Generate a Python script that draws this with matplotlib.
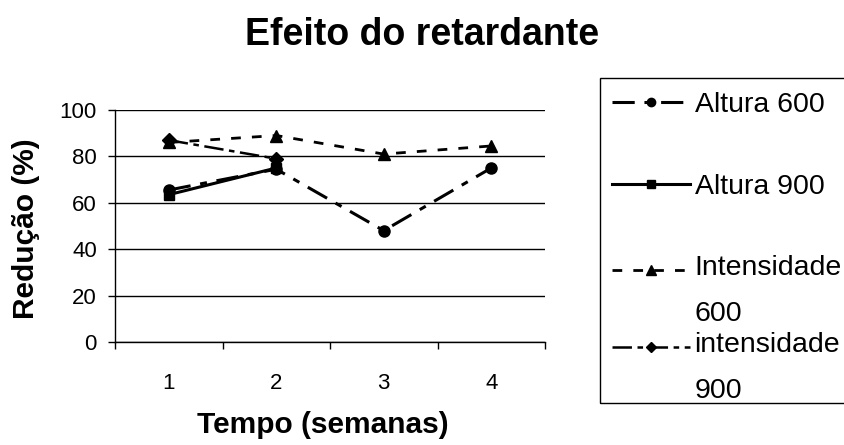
import numpy as np
import matplotlib
matplotlib.use("Agg")
import matplotlib.pyplot as plt
from matplotlib.legend_handler import HandlerLine2D
from matplotlib.patches import Rectangle

plt.rcParams['font.family'] = ['Liberation Sans', 'DejaVu Sans']
plt.rcParams['lines.scale_dashes'] = False

# data
weeks = [1, 2, 3, 4]
altura_600 = [65.5, 74.5, 48, 75]
altura_900 = [63.5, 75, np.nan, np.nan]
intens_600 = [86, 89, 81, 84.5]
intens_900 = [87, 79, np.nan, np.nan]
labels = ["Altura 600", "Altura 900", "Intensidade\n600", "intensidade\n900"]
y_ticks = [0, 20, 40, 60, 80, 100]


# legend handle sits on the first line of a two-line label (like Excel)
class FirstLineHandler(HandlerLine2D):
    def __init__(self, shift, **kw):
        super().__init__(**kw)
        self.shift = shift

    def create_artists(self, legend, orig_handle, xdescent, ydescent,
                       width, height, fontsize, trans):
        arts = super().create_artists(legend, orig_handle, xdescent, ydescent,
                                      width, height, fontsize, trans)
        for a in arts:
            a.set_ydata(np.asarray(a.get_ydata(), dtype=float) + self.shift)
        return arts


W, H = 845, 445
fig = plt.figure(figsize=(W / 100, H / 100), dpi=100)
ax = fig.add_axes([115 / W, 1 - 342 / H, 430 / W, 232 / H])

l1, = ax.plot(weeks, altura_600, color="black", lw=2.2, marker="o", ms=8,
              dashes=(16, 7, 5, 7))
l2, = ax.plot(weeks, altura_900, color="black", lw=2.2, marker="s", ms=7.5)
l3, = ax.plot(weeks, intens_600, color="black", lw=2.0, marker="^", ms=9,
              dashes=(7, 8))
l4, = ax.plot(weeks, intens_900, color="black", lw=1.8, marker="D", ms=7,
              dashes=(14, 4, 4, 4))

ax.set_xlim(0.5, 4.5)
ax.set_ylim(0, 100)
ax.set_yticks(y_ticks)
ax.set_xticks(weeks)
ax.set_xticks([0.5, 1.5, 2.5, 3.5, 4.5], minor=True)
ax.tick_params(axis="x", which="major", length=0, pad=22, labelsize=16)
ax.tick_params(axis="x", which="minor", length=5, width=1, direction="out")
ax.tick_params(axis="y", length=5, width=1, direction="out", pad=8, labelsize=16)
ax.grid(axis="y", color="black", lw=1)
ax.set_axisbelow(True)
for s in ["top", "right"]:
    ax.spines[s].set_visible(False)
for s in ["left", "bottom"]:
    ax.spines[s].set_linewidth(1)

fig.text(422 / W, 1 - 45 / H, "Efeito do retardante", fontsize=27,
         fontweight="bold", ha="center", va="baseline")
fig.text(323 / W, 1 - 433 / H, "Tempo (semanas)", fontsize=21.5,
         fontweight="bold", ha="center", va="baseline")
fig.text(26 / W, 1 - 229 / H, "Redução (%)", fontsize=21.5,
         fontweight="bold", ha="center", va="center", rotation=90)

# legend: one entry per line, inside a frame that runs off the right edge
fig.add_artist(Rectangle((600 / W, 1 - 403 / H), 300 / W, (403 - 78) / H,
                         transform=fig.transFigure, fill=False,
                         edgecolor="black", lw=1))
leg_fs = 20.5
half_gap = 21  # px, half the baseline distance of two-line labels
handle_y = [105, 187, 270, 347]
for line, lab, hy in zip([l1, l2, l3, l4], labels, handle_y):
    two = "\n" in lab
    yc = hy + half_gap if two else hy
    hmap = {line: FirstLineHandler(half_gap * 0.72)} if two else None
    leg = fig.legend([line], [lab], loc="center left",
                     bbox_to_anchor=(612 / W, 1 - yc / H),
                     frameon=False, fontsize=leg_fs, handlelength=2.75,
                     handletextpad=0.15, borderpad=0, borderaxespad=0,
                     markerscale=0.75, handler_map=hmap)
    for t in leg.get_texts():
        t.set_linespacing(2.0)

fig.savefig("out.png", dpi=100)
